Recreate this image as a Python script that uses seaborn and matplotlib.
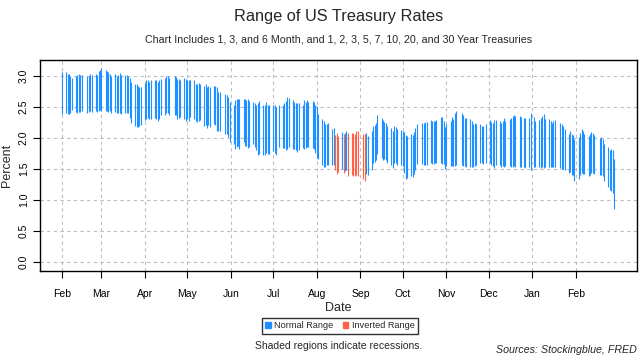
import pandas as pd
import matplotlib
matplotlib.use("Agg")
import matplotlib.pyplot as plt
import matplotlib.dates as mdates
from matplotlib.patches import Patch
import seaborn as sns

# bond market holidays (no data on these days)
holidays = ["2019-02-18", "2019-04-19", "2019-05-27", "2019-07-04", "2019-09-02",
            "2019-10-14", "2019-11-11", "2019-11-28", "2019-12-25", "2020-01-01",
            "2020-01-20", "2020-02-17"]

# days where the curve was inverted
inverted_days = ["2019-08-14", "2019-08-15", "2019-08-16", "2019-08-20", "2019-08-23",
                 "2019-08-26", "2019-08-27", "2019-08-28", "2019-08-29", "2019-08-30",
                 "2019-09-03", "2019-09-04"]

month_ticks = pd.date_range("2019-02-01", "2020-02-01", freq="MS")

# daily max / min rate across all maturities, one value per trading day
high_feb19 = [3.06, 3.06, 3.03, 3.03, 3.00, 2.97, 3.00, 3.02, 3.04, 3.02, 3.02,
              3.00, 3.00, 3.04, 3.02, 3.03, 3.01, 3.08, 3.10]
low_feb19 = [2.39, 2.40, 2.39, 2.39, 2.41, 2.45, 2.42, 2.41, 2.42, 2.42, 2.43,
             2.41, 2.42, 2.43, 2.42, 2.43, 2.42, 2.44, 2.45]
high_mar19 = [3.13, 3.10, 3.09, 3.06, 3.03, 3.00, 3.03, 3.00, 3.02, 3.05, 3.02,
              3.02, 3.02, 3.00, 2.97, 2.90, 2.87, 2.87, 2.84, 2.83, 2.82]
low_mar19 = [2.44, 2.44, 2.43, 2.42, 2.44, 2.41, 2.42, 2.41, 2.41, 2.41, 2.39,
             2.41, 2.41, 2.41, 2.32, 2.24, 2.20, 2.18, 2.18, 2.20, 2.21]
high_apr19 = [2.89, 2.94, 2.93, 2.91, 2.93, 2.94, 2.93, 2.90, 2.94, 2.95,
              2.97, 3.00, 3.00, 2.97, 3.00, 2.99, 2.95, 2.95, 2.93, 2.97, 2.95]
low_apr19 = [2.29, 2.31, 2.32, 2.31, 2.30, 2.33, 2.31, 2.28, 2.31, 2.38,
             2.37, 2.41, 2.40, 2.37, 2.38, 2.37, 2.31, 2.32, 2.34, 2.30, 2.28]
high_may19 = [2.93, 2.94, 2.93, 2.93, 2.87, 2.88, 2.89, 2.88, 2.84, 2.87, 2.83,
              2.84, 2.83, 2.84, 2.84, 2.82, 2.75, 2.75, 2.71, 2.70, 2.67, 2.58]
low_may19 = [2.31, 2.27, 2.34, 2.30, 2.27, 2.26, 2.27, 2.29, 2.19, 2.21, 2.16,
             2.21, 2.18, 2.23, 2.21, 2.11, 2.12, 2.12, 2.07, 2.06, 2.02, 1.93]
high_jun19 = [2.54, 2.62, 2.63, 2.63, 2.63, 2.63, 2.63, 2.62, 2.63, 2.60,
              2.58, 2.57, 2.54, 2.56, 2.60, 2.54, 2.54, 2.59, 2.54, 2.53]
low_jun19 = [1.90, 1.82, 1.86, 1.88, 1.83, 1.93, 1.87, 1.87, 1.84, 1.85,
             1.90, 1.85, 1.80, 1.73, 1.75, 1.72, 1.72, 1.76, 1.74, 1.75]
high_jul19 = [2.54, 2.53, 2.50, 2.54, 2.54, 2.56, 2.60, 2.66, 2.65, 2.61, 2.58,
              2.57, 2.56, 2.56, 2.54, 2.61, 2.58, 2.61, 2.58, 2.60, 2.59, 2.54]
low_jul19 = [1.79, 1.76, 1.73, 1.85, 1.84, 1.84, 1.81, 1.83, 1.85, 1.83, 1.82,
             1.80, 1.77, 1.80, 1.84, 1.83, 1.84, 1.85, 1.85, 1.84, 1.83, 1.76]
high_aug19 = [2.52, 2.39, 2.31, 2.27, 2.22, 2.23, 2.24, 2.15, 2.17, 2.05, 2.08,
              2.04, 2.10, 2.07, 2.08, 2.11, 2.08, 2.08, 2.08, 2.07, 2.12, 2.12]
low_aug19 = [1.68, 1.66, 1.56, 1.53, 1.53, 1.56, 1.57, 1.57, 1.56, 1.48, 1.42,
             1.45, 1.50, 1.43, 1.47, 1.48, 1.39, 1.40, 1.38, 1.39, 1.40, 1.39]
high_sep19 = [2.07, 2.06, 2.08, 2.03, 2.11, 2.19, 2.21, 2.24, 2.37, 2.32,
              2.29, 2.26, 2.24, 2.19, 2.17, 2.12, 2.19, 2.18, 2.15, 2.13]
low_sep19 = [1.34, 1.31, 1.42, 1.40, 1.49, 1.59, 1.61, 1.65, 1.74, 1.68,
             1.65, 1.66, 1.65, 1.60, 1.56, 1.52, 1.60, 1.59, 1.56, 1.56]
high_oct19 = [2.12, 2.10, 2.05, 2.03, 2.07, 2.05, 2.10, 2.16, 2.23, 2.25, 2.25,
              2.26, 2.26, 2.29, 2.27, 2.27, 2.28, 2.29, 2.34, 2.34, 2.28, 2.18]
low_oct19 = [1.55, 1.43, 1.34, 1.36, 1.39, 1.37, 1.42, 1.48, 1.58, 1.58, 1.57,
             1.57, 1.57, 1.60, 1.58, 1.58, 1.59, 1.60, 1.60, 1.58, 1.58, 1.50]
high_nov19 = [2.23, 2.28, 2.34, 2.31, 2.40, 2.44, 2.41, 2.37, 2.32, 2.32,
              2.31, 2.28, 2.22, 2.25, 2.23, 2.22, 2.20, 2.20, 2.22]
low_nov19 = [1.55, 1.55, 1.55, 1.55, 1.55, 1.56, 1.56, 1.55, 1.55, 1.54,
             1.54, 1.54, 1.54, 1.55, 1.56, 1.59, 1.59, 1.58, 1.59]
high_dec19 = [2.29, 2.26, 2.24, 2.29, 2.29, 2.28, 2.25, 2.27, 2.32, 2.28, 2.31,
              2.32, 2.35, 2.37, 2.35, 2.35, 2.34, 2.33, 2.32, 2.33, 2.40]
low_dec19 = [1.59, 1.57, 1.55, 1.52, 1.56, 1.56, 1.54, 1.55, 1.54, 1.55, 1.55,
             1.54, 1.54, 1.55, 1.54, 1.54, 1.53, 1.54, 1.52, 1.54, 1.48]
high_jan20 = [2.34, 2.28, 2.29, 2.33, 2.35, 2.39, 2.30, 2.31, 2.28, 2.25, 2.28,
              2.29, 2.25, 2.23, 2.19, 2.15, 2.06, 2.12, 2.06, 2.05, 1.98]
low_jan20 = [1.53, 1.53, 1.53, 1.51, 1.53, 1.52, 1.54, 1.53, 1.53, 1.54, 1.53,
             1.54, 1.52, 1.50, 1.50, 1.48, 1.44, 1.45, 1.41, 1.40, 1.31]
high_feb20 = [2.02, 2.09, 2.15, 2.12, 2.06, 2.03, 2.06, 2.10, 2.08, 2.05,
              2.00, 2.02, 1.99, 1.91, 1.86, 1.81, 1.83, 1.81, 1.67]
low_feb20 = [1.34, 1.41, 1.43, 1.42, 1.42, 1.38, 1.40, 1.43, 1.43, 1.42,
             1.41, 1.40, 1.38, 1.30, 1.21, 1.16, 1.14, 1.12, 0.86]

highs = (high_feb19 + high_mar19 + high_apr19 + high_may19 + high_jun19 + high_jul19 +
         high_aug19 + high_sep19 + high_oct19 + high_nov19 + high_dec19 + high_jan20 + high_feb20)
lows = (low_feb19 + low_mar19 + low_apr19 + low_may19 + low_jun19 + low_jul19 +
        low_aug19 + low_sep19 + low_oct19 + low_nov19 + low_dec19 + low_jan20 + low_feb20)

dates = pd.bdate_range("2019-02-01", "2020-02-28")
dates = dates[~dates.isin(pd.to_datetime(holidays))]
assert len(dates) == len(highs) == len(lows), (len(dates), len(highs), len(lows))

inv = pd.to_datetime(inverted_days)
kind = ["Inverted Range" if d in inv else "Normal Range" for d in dates]

# long format: two points per day, one line per day
df = pd.DataFrame({
    "date": list(dates) * 2,
    "day": list(range(len(dates))) * 2,
    "rate": lows + highs,
    "kind": kind * 2,
})

sns.set_style("white")
plt.rcParams["font.family"] = ["Liberation Sans", "DejaVu Sans"]
plt.rcParams["lines.solid_capstyle"] = "butt"

colors = {"Normal Range": "#1E90FF", "Inverted Range": "#FF6347"}

fig = plt.figure(figsize=(6.4, 3.6), dpi=100)
ax = fig.add_axes([40 / 640, 1 - 271 / 360, 597 / 640, 211 / 360])

sns.lineplot(data=df, x="date", y="rate", units="day", estimator=None, hue="kind",
             palette=colors, linewidth=0.8, legend=False, sort=False, ax=ax)

x0 = pd.Timestamp("2019-02-01")
ax.set_xlim(x0 - pd.Timedelta(days=15.6), x0 + pd.Timedelta(days=408.4))
ax.set_ylim(-0.145, 3.26)

ax.set_xticks(month_ticks)
ax.xaxis.set_major_formatter(mdates.DateFormatter("%b"))
ax.set_yticks([0, 0.5, 1.0, 1.5, 2.0, 2.5, 3.0])
ax.set_yticklabels(["0.0", "0.5", "1.0", "1.5", "2.0", "2.5", "3.0"])
plt.setp(ax.get_yticklabels(), rotation=90, va="center")

ax.grid(True, color="#bebebe", linestyle=(0, (3, 3)), linewidth=0.8)
ax.set_axisbelow(True)
for s in ax.spines.values():
    s.set_color("black")
    s.set_linewidth(1.0)

ax.tick_params(axis="both", direction="out", length=5, width=0.8, colors="black",
               labelsize=7.5, bottom=True, left=True)
ax.tick_params(axis="x", pad=8)
ax.tick_params(axis="y", pad=3)

ax.set_xlabel("Date", fontsize=9, labelpad=2)
ax.set_ylabel("Percent", fontsize=9, labelpad=4)

fig.text(338.5 / 640, 1 - 17 / 360, "Range of US Treasury Rates", ha="center", va="center",
         fontsize=11.8)
fig.text(338.5 / 640, 1 - 40 / 360,
         "Chart Includes 1, 3, and 6 Month, and 1, 2, 3, 5, 7, 10, 20, and 30 Year Treasuries",
         ha="center", va="center", fontsize=7.7)

handles = [Patch(color=colors["Normal Range"], label="Normal Range"),
           Patch(color=colors["Inverted Range"], label="Inverted Range")]
leg = fig.legend(handles=handles, ncol=2, loc="center", bbox_to_anchor=(340 / 640, 1 - 326 / 360),
                 frameon=True, fancybox=False, edgecolor="black", fontsize=6.6,
                 handlelength=0.6, handleheight=0.6, handletextpad=0.4, columnspacing=1.0,
                 borderpad=0.35)
leg.get_frame().set_linewidth(1.0)

fig.text(339 / 640, 1 - 346 / 360, "Shaded regions indicate recessions.", ha="center",
         va="center", fontsize=7.5)
fig.text(637 / 640, 1 - 350 / 360, "Sources: Stockingblue, FRED", ha="right", va="center",
         fontsize=7.7, style="italic")

fig.savefig("out.png", dpi=100)
